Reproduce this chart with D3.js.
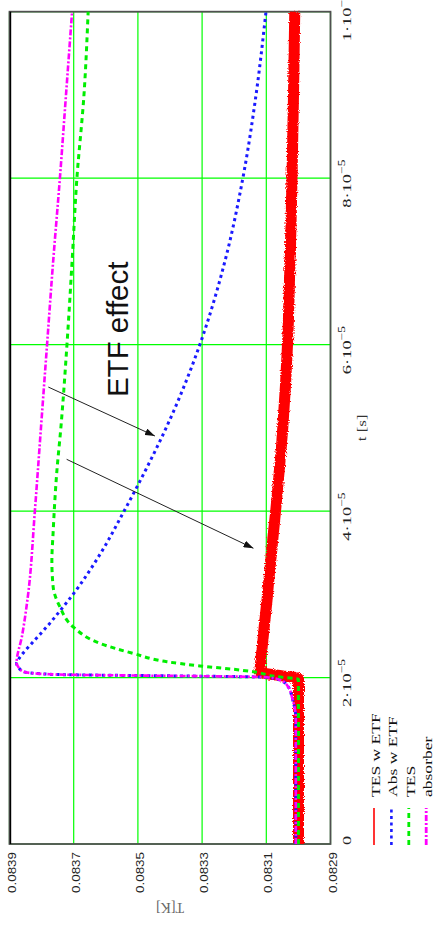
<!DOCTYPE html>
<html><head><meta charset="utf-8">
<script src="https://cdn.jsdelivr.net/npm/d3@7"></script>
<style>html,body{margin:0;padding:0;background:#fff;overflow:hidden}svg{display:block}</style>
</head><body>
<svg id="c" width="435" height="927"></svg>
<script>
// time in units of 1e-5 s, temperature in K
const tesEtf = [[0,0.08300],[1.99,0.08300],[2.02,0.08305],[2.067,0.08312],[2.35,0.083113],[2.93,0.083098],[3.5,0.083084],[4,0.083071],[5,0.083049],[6,0.083034],[7,0.083026],[8,0.08302],[9,0.083015],[10,0.083011]];
const absEtf = [[0,0.083008],[1.5,0.083008],[1.75,0.083019],[1.89,0.083032],[1.97,0.083057],[2.003,0.083098],[2.039,0.083774],[2.07,0.083857],[2.13,0.083873],[2.17,0.083878],[2.21,0.083873],[2.43,0.083826],[2.6,0.083786],[2.8,0.083743],[3.0,0.083702],[3.5,0.083615],[4,0.083543],[4.5,0.083475],[5,0.083412],[6,0.083307],[7,0.083229],[8,0.083173],[9,0.083132],[10,0.083101]];
const tes = [[0,0.08300],[1.98,0.08300],[2.01,0.083067],[2.07,0.083141],[2.1,0.083204],[2.14,0.083307],[2.19,0.08341],[2.29,0.083515],[2.41,0.083618],[2.61,0.083702],[2.85,0.083743],[3.09,0.083764],[3.4,0.083768],[3.75,0.083764],[4.5,0.083752],[5,0.08374],[6,0.083721],[7,0.083705],[8,0.08369],[9,0.083668],[10,0.083655]];
const absorber = [[0,0.083008],[1.5,0.083008],[1.75,0.083019],[1.89,0.083032],[1.97,0.083057],[2.003,0.083098],[2.039,0.083774],[2.07,0.083857],[2.13,0.083873],[2.17,0.083878],[2.5,0.083861],[3,0.083842],[4,0.083821],[5,0.083802],[6,0.083783],[7,0.083764],[8,0.083743],[9,0.083724],[10,0.083705]];

const seriesNames = ["TES w ETF","Abs w ETF","TES","absorber"];
const xTicks = [0,2,4,6,8,10];
const xTickMantissa = ["0","2","4","6","8","1"];
const xTickExponent = ["","\u22125","\u22125","\u22125","\u22125","\u22124"];
const yTicks = [0.0829,0.0831,0.0833,0.0835,0.0837,0.0839];
const xTitle = "t [s]";
const yTitle = "T[K]";
const noteText = "ETF effect";
const notePos = [5.37,0.083531];
const arrows = [[[5.49,0.083779],[4.902,0.083447]],[[4.622,0.083722],[3.553,0.08314]]];

const svg = d3.select("#c");
const defs = svg.append("defs");
const f = defs.append("filter").attr("id","rough").attr("filterUnits","userSpaceOnUse")
  .attr("x",0).attr("y",0).attr("width",927).attr("height",435);
f.append("feTurbulence").attr("type","fractalNoise").attr("baseFrequency","0.9").attr("numOctaves",1).attr("seed",3).attr("result","n");
f.append("feDisplacementMap").attr("in","SourceGraphic").attr("in2","n").attr("scale",4).attr("xChannelSelector","R").attr("yChannelSelector","G");
defs.append("marker").attr("id","ah").attr("markerUnits","userSpaceOnUse")
  .attr("markerWidth",10).attr("markerHeight",7).attr("refX",10).attr("refY",3.5).attr("orient","auto")
  .append("path").attr("d","M0,0L10,3.5L0,7Z").attr("fill","#111");

// chart is drawn in landscape and rotated 90° counter-clockwise
const g = svg.append("g").attr("transform","translate(0,927) rotate(-90)");
const x = d3.scaleLinear().domain([0,10]).range([83,915.3]);
const y = d3.scaleLinear().domain([0.0829,0.0839]).range([330.5,9.5]);

// grid
g.append("g").selectAll("line").data(xTicks).join("line")
  .attr("x1",d=>x(d)).attr("x2",d=>x(d)).attr("y1",y(0.0829)).attr("y2",y(0.0839))
  .attr("stroke","#00ff00").attr("stroke-width",1.2);
g.append("g").selectAll("line").data(yTicks).join("line")
  .attr("y1",d=>y(d)).attr("y2",d=>y(d)).attr("x1",x(0)).attr("x2",x(10))
  .attr("stroke","#00ff00").attr("stroke-width",1.2);

// frame
g.append("rect").attr("x",x(0)).attr("y",y(0.0839)).attr("width",x(10)-x(0)).attr("height",y(0.0829)-y(0.0839))
  .attr("fill","none").attr("stroke","#505050").attr("stroke-width",1.8);
g.append("line").attr("x1",x(0)).attr("x2",x(10)).attr("y1",y(0.0839)+1).attr("y2",y(0.0839)+1)
  .attr("stroke","#000").attr("stroke-width",1.4);

// axes
const ya = g.append("g").attr("transform",`translate(${x(0)},0)`)
  .call(d3.axisLeft(y).tickValues(yTicks).tickSize(0).tickPadding(8).tickFormat(d3.format(".4f")));
ya.select(".domain").remove();
ya.selectAll("text").attr("x",null).attr("dy","0.5em").attr("transform","translate(-8,0) scale(1.22,1)")
  .attr("font-family","'Liberation Sans',Arial,sans-serif").attr("font-size",11).attr("fill","#222");

const xa = g.append("g").attr("transform",`translate(0,${y(0.0829)})`)
  .call(d3.axisBottom(x).tickValues(xTicks).tickSize(0).tickFormat(""));
xa.select(".domain").remove();
xa.selectAll(".tick text").remove();
xa.selectAll(".tick").each(function(d,i){
  const off = xTickExponent[i] ? -6 : 3;
  const t = d3.select(this).append("text").attr("text-anchor","middle")
    .attr("transform",`translate(${off},20.5) scale(1.42,1)`)
    .attr("font-family","'Liberation Serif','Times New Roman',serif").attr("font-size",13).attr("fill","#222");
  t.append("tspan").text(xTickExponent[i] ? xTickMantissa[i] + "\u00b710" : xTickMantissa[i]);
  if (xTickExponent[i]) t.append("tspan").attr("font-size",9.5).attr("dy",-6).text(xTickExponent[i]);
});

g.append("text").text(xTitle).attr("text-anchor","middle")
  .attr("transform",`translate(${x(5)},${y(0.0829)+35.5}) scale(1.3,1)`)
  .attr("font-family","'Liberation Serif',serif").attr("font-size",13).attr("fill","#333");
g.append("text").text(yTitle).attr("text-anchor","middle")
  .attr("transform",`translate(24,${(y(0.0829)+y(0.0839))/2}) rotate(-90)`)
  .attr("font-family","'Liberation Serif',serif").attr("font-size",14).attr("fill","#666");

// series
const line = d3.line().x(d=>x(d[0])).y(d=>y(d[1])).curve(d3.curveMonotoneX);
const styles = [
  {data:tesEtf, color:"#ff0000", w:11, dash:null, lw:1.6},
  {data:absEtf, color:"#1a1aff", w:3, dash:"3,3.5", lw:2.6},
  {data:tes, color:"#00ee00", w:3, dash:"5,4", lw:2.8},
  {data:absorber, color:"#ff00ff", w:2.6, dash:"6,2,2,2", lw:2.8}
];
styles.forEach((s,i)=>{
  const p = g.append("path").datum(s.data).attr("d",line).attr("fill","none")
    .attr("stroke",s.color).attr("stroke-width",s.w);
  if (s.dash) p.attr("stroke-dasharray",s.dash);
  if (i===0) p.attr("filter","url(#rough)");
});

// annotation
g.append("text").text(noteText).attr("x",x(notePos[0])).attr("y",y(notePos[1]))
  .attr("font-family","'Liberation Sans',Arial,sans-serif").attr("font-size",29.5).attr("fill","#111");
g.append("g").selectAll("line").data(arrows).join("line")
  .attr("x1",d=>x(d[0][0])).attr("y1",d=>y(d[0][1])).attr("x2",d=>x(d[1][0])).attr("y2",d=>y(d[1][1]))
  .attr("stroke","#222").attr("stroke-width",1).attr("marker-end","url(#ah)");

// legend
const lg = g.append("g");
seriesNames.forEach((n,i)=>{
  const ry = 374 + i*17.4;
  const s = styles[i];
  const l = lg.append("line").attr("x1",82).attr("x2",119).attr("y1",ry).attr("y2",ry)
    .attr("stroke",s.color).attr("stroke-width",s.lw);
  if (s.dash) l.attr("stroke-dasharray",s.dash);
  lg.append("text").text(n).attr("transform",`translate(130,${ry+6}) scale(1.3,1)`)
    .attr("font-family","'Liberation Serif',serif").attr("font-size",13.5).attr("fill","#111");
});
</script>
</body></html>
